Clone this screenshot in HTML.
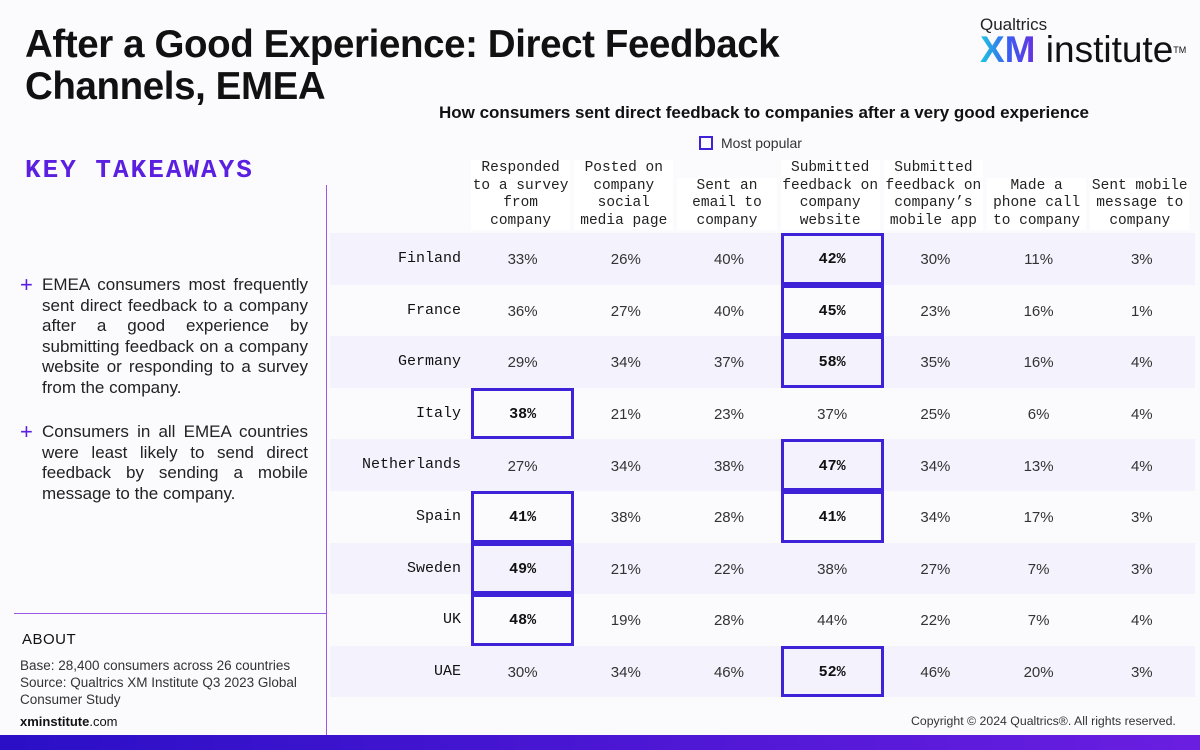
<!DOCTYPE html>
<html><head><meta charset="utf-8"><style>
body{margin:0;width:1200px;height:750px;background:#fbfbfe;font-family:"Liberation Sans",sans-serif;position:relative;overflow:hidden;color:#111}
.abs{position:absolute}
.mono{font-family:"Liberation Mono",monospace}
</style></head><body>
<div class="abs" style="left:25px;top:24px;font-size:38.5px;font-weight:bold;line-height:42px;letter-spacing:-0.4px">After a Good Experience: Direct Feedback<br>Channels, EMEA</div>
<div class="abs" style="left:980px;top:15px;width:215px">
 <div style="font-size:17px;color:#222">Qualtrics</div>
 <div style="font-size:37px;line-height:32px;margin-top:-1px;white-space:nowrap"><b style="background:linear-gradient(90deg,#1ec8e0,#3a5ef0,#6a2ee0);-webkit-background-clip:text;color:transparent">XM</b> institute<sup style="font-size:9px;vertical-align:top">TM</sup></div>
</div>
<div class="abs mono" style="left:25px;top:155px;font-size:26px;font-weight:bold;color:#5b1fe0;letter-spacing:2px">KEY TAKEAWAYS</div>
<div class="abs" style="left:20px;top:275px;width:288px;font-size:17px;line-height:20.5px;color:#222;text-align:justify"><span style="position:absolute;left:0;color:#5b1fe0;font-size:22px">+</span><div style="margin-left:22px">EMEA consumers most frequently sent direct feedback to a company after a good experience by submitting feedback on a company website or responding to a survey from the company.</div></div>
<div class="abs" style="left:20px;top:422px;width:288px;font-size:17px;line-height:20.5px;color:#222;text-align:justify"><span style="position:absolute;left:0;color:#5b1fe0;font-size:22px">+</span><div style="margin-left:22px">Consumers in all EMEA countries were least likely to send direct feedback by sending a mobile message to the company.</div></div>
<div class="abs" style="left:326px;top:185px;width:1px;height:550px;background:#9b59e8"></div>
<div class="abs" style="left:14px;top:613px;width:312px;height:1px;background:#9b59e8"></div>
<div class="abs" style="left:22px;top:631px;font-size:15px;letter-spacing:0.5px">ABOUT</div>
<div class="abs" style="left:20px;top:657px;font-size:13.5px;line-height:17px;color:#333">Base: 28,400 consumers across 26 countries<br>Source: Qualtrics XM Institute Q3 2023 Global<br>Consumer Study</div>
<div class="abs" style="left:20px;top:714px;font-size:13px"><b>xminstitute</b>.com</div>
<div class="abs" style="left:911px;top:714px;font-size:12.3px;color:#333">Copyright © 2024 Qualtrics®. All rights reserved.</div>
<div class="abs" style="left:0;top:735px;width:1200px;height:15px;background:linear-gradient(90deg,#2a0fc6,#6a1ee0)"></div>
<div class="abs" style="left:330px;top:103px;width:868px;text-align:center;font-size:17px;font-weight:bold">How consumers sent direct feedback to companies after a very good experience</div>
<div class="abs" style="left:699px;top:135px;font-size:14px;color:#333"><span style="display:inline-block;width:10px;height:10px;border:2px solid #3d22d8;vertical-align:-2px;margin-right:8px"></span>Most popular</div>
<div id="table"></div>
<script>
const countries=["Finland","France","Germany","Italy","Netherlands","Spain","Sweden","UK","UAE"];
const channels=["Responded<br>to a survey<br>from<br>company","Posted on<br>company<br>social<br>media page","Sent an<br>email to<br>company","Submitted<br>feedback on<br>company<br>website","Submitted<br>feedback on<br>company’s<br>mobile app","Made a<br>phone call<br>to company","Sent mobile<br>message to<br>company"];
const values=[
[33,26,40,42,30,11,3],
[36,27,40,45,23,16,1],
[29,34,37,58,35,16,4],
[38,21,23,37,25,6,4],
[27,34,38,47,34,13,4],
[41,38,28,41,34,17,3],
[49,21,22,38,27,7,3],
[48,19,28,44,22,7,4],
[30,34,46,52,46,20,3]];
const highlights=[[3],[3],[3],[0],[3],[0,3],[0],[0],[3]];
const t=document.getElementById('table');
const x0=471,cw=103.2,y0=233,rh=51.6;
const colX=i=>x0+i*cw, rowY=r=>y0+r*rh;
channels.forEach((c,i)=>{
 const d=document.createElement('div');
 
 
 d.className='abs mono';
 d.style.cssText=`left:${colX(i)}px;width:${cw-4}px;bottom:${750-230}px;background:#fff;text-align:center;font-size:14.5px;line-height:17.5px;color:#222`;
 d.innerHTML=c;t.appendChild(d);
});
countries.forEach((c,r)=>{
 if(r%2==0){const s=document.createElement('div');
 
 
 s.className='abs';s.style.cssText=`left:330px;top:${rowY(r)}px;width:865px;height:${rh}px;background:#f4f2fc`;t.appendChild(s);}
 const l=document.createElement('div');
 
 
 l.className='abs mono';l.style.cssText=`left:330px;width:131px;text-align:right;top:${rowY(r)+17}px;font-size:15px`;
 l.textContent=c;t.appendChild(l);
 values[r].forEach((v,i)=>{
  const h=highlights[r].includes(i);
  const d=document.createElement('div');
  
  
  d.className='abs';
  d.style.cssText=`left:${colX(i)}px;top:${rowY(r)}px;width:${cw}px;height:${rh}px;box-sizing:border-box;display:flex;align-items:center;justify-content:center;font-size:15px;color:#333;padding-top:2px;`+(h?'border:3px solid #3d22d8;font-weight:bold;color:#111;font-family:"Liberation Mono",monospace;':'');
  d.textContent=v+'%';t.appendChild(d);
 });
});
</script>
</body></html>
